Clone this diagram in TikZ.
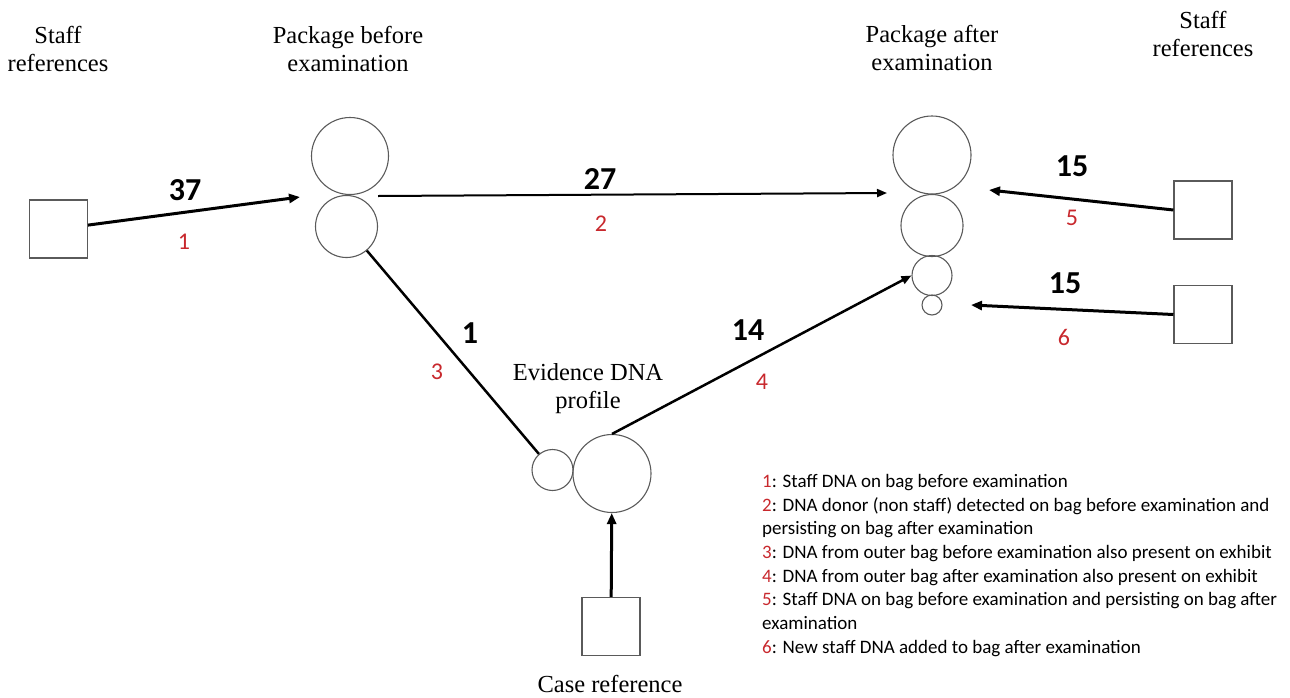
\documentclass[tikz,border=0pt]{standalone}
\usepackage{fontspec}
\setmainfont{Liberation Serif}
\newfontfamily\calibri{Carlito}
\usetikzlibrary{arrows.meta}
\definecolor{numred}{RGB}{200,40,45}
\definecolor{ringgray}{RGB}{90,90,90}

\begin{document}
\begin{tikzpicture}[x=1pt, y=-1pt,
    ring/.style={circle, draw=ringgray, line width=1.1pt, inner sep=0pt},
    refbox/.style={draw=ringgray, line width=1.1pt, minimum size=58pt, inner sep=0pt},
    title/.style={align=center, font=\fontsize{24.5}{28}\selectfont},
    count/.style={font=\calibri\bfseries\fontsize{32}{34}\selectfont},
    tag/.style={font=\calibri\fontsize{24}{26}\selectfont, text=numred},
    flow/.style={-{Triangle[length=11pt, width=9pt]}, line width=3pt}]
      \useasboundingbox (0,0) rectangle (1290,697);

      % titles
      \node[title] (tsl) at (58, 49) {Staff\\references};
      \node[title] (tpb) at (348, 49) {Package before\\examination};
      \node[title] (tpa) at (932, 48) {Package after\\examination};
      \node[title] (tsr) at (1203, 34) {Staff\\references};
      \node[title] (tev) at (588, 389) {Evidence DNA\\profile};
      \node[title] (tcr) at (610, 684) {Case reference};

      % reference boxes
      \node[refbox] (sl) at (58.5, 229) {};
      \node[refbox] (sr1) at (1203, 210) {};
      \node[refbox] (sr2) at (1203, 314.5) {};
      \node[refbox] (cr) at (611, 626.5) {};

      % packages and profile
      \node[ring, minimum size=77pt] (pb1) at (350, 156) {};
      \node[ring, minimum size=62pt] (pb2) at (346.5, 226.5) {};
      \node[ring, minimum size=78pt] (pa1) at (932, 155) {};
      \node[ring, minimum size=62pt] (pa2) at (932, 225.5) {};
      \node[ring, minimum size=40pt] (pa3) at (932, 275.5) {};
      \node[ring, minimum size=20pt] (pa4) at (932, 305) {};
      \node[ring, minimum size=41pt] (ev1) at (552.5, 470) {};
      \node[ring, minimum size=78pt] (ev2) at (612, 473.5) {};

      \coordinate (pbin) at (300, 197);
      \coordinate (pbout) at (378, 196);
      \coordinate (pain) at (887, 193);
      \coordinate (pain5) at (989, 190);
      \coordinate (pain6) at (971, 305);

      % connectors
      \draw[flow] (sl) -- (pbin);
      \draw[-{Triangle[length=10pt, width=8pt]}, line width=2pt] (pbout) -- (pain);
      \draw[line width=2.5pt] (pb2) -- (ev1);
      \draw[-{Triangle[length=10pt, width=8pt]}, line width=2.5pt] (ev2.north) -- (pa3.west);
      \draw[flow] (sr1.west) -- (pain5);
      \draw[flow] (sr2.west) -- (pain6);
      \draw[flow] (cr) -- (ev2);

      % counts
      \node[count] (n1) at (185, 190) {37};
      \node[count] (n2) at (600, 179) {27};
      \node[count] (n3) at (470, 333) {1};
      \node[count] (n4) at (748, 330) {14};
      \node[count] (n5) at (1072, 166) {15};
      \node[count] (n6) at (1065, 283) {15};

      % tags
      \node[tag] (l1) at (184, 242) {1};
      \node[tag] (l2) at (601, 224) {2};
      \node[tag] (l3) at (437, 372) {3};
      \node[tag] (l4) at (762, 382) {4};
      \node[tag] (l5) at (1072, 218) {5};
      \node[tag] (l6) at (1064, 337) {6};

      % legend
      \node[anchor=north west, inner sep=0pt, align=left,
            font=\calibri\fontsize{19}{23.7}\selectfont] (key) at (762, 474)
        {\textcolor{numred}{1}: Staff DNA on bag before examination\\
         \textcolor{numred}{2}: DNA donor (non staff) detected on bag before examination and\\
         persisting on bag after examination\\
         \textcolor{numred}{3}: DNA from outer bag before examination also present on exhibit\\
         \textcolor{numred}{4}: DNA from outer bag after examination also present on exhibit\\
         \textcolor{numred}{5}: Staff DNA on bag before examination and persisting on bag after\\
         examination\\
         \textcolor{numred}{6}: New staff DNA added to bag after examination};
    \end{tikzpicture}
\end{document}
